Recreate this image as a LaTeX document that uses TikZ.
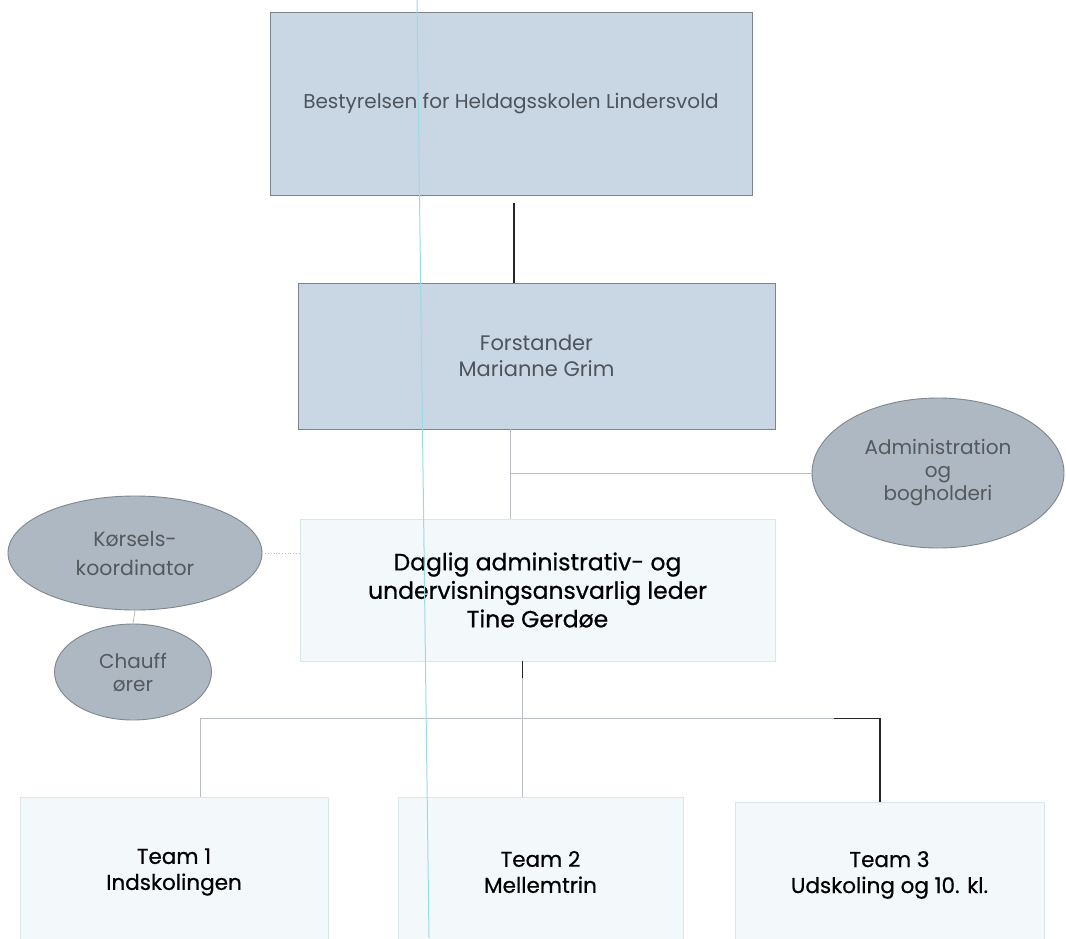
\documentclass[tikz,border=0pt]{standalone}
\usepackage{fontspec}
\setmainfont{Poppins}
\newfontfamily\heavyfont{Poppins}[FakeBold=0.6]
\usetikzlibrary{shapes.geometric,calc}
\definecolor{boxblue}{HTML}{C9D6E3}
\definecolor{boxedge}{HTML}{7C838A}
\definecolor{ellfill}{HTML}{AEB8C3}
\definecolor{elledge}{HTML}{7E868E}
\definecolor{palefill}{HTML}{F3F9FB}
\definecolor{paleedge}{HTML}{D9E6EA}
\definecolor{greytext}{HTML}{4E545B}
\definecolor{ellitext}{HTML}{53595F}
\definecolor{faintline}{HTML}{B9BEC2}
\definecolor{scanline}{HTML}{9ADCE4}
\tikzset{
  topbox/.style={draw=boxedge, line width=0.8, fill=boxblue, text=greytext, align=center, inner sep=0},
  palebox/.style={draw=paleedge, line width=0.8, fill=palefill, text=black, align=center, inner sep=0},
  oval/.style={ellipse, draw=elledge, line width=0.9, fill=ellfill, text=ellitext, align=center, inner sep=0},
  darkline/.style={draw=black!85, line width=1.2},
  faint/.style={draw=faintline, line width=0.8},
}
\begin{document}
\begin{tikzpicture}[x=1pt,y=-1pt]
\useasboundingbox (0,0) rectangle (1066,938);
\clip (0,0) rectangle (1066,938);
\fill[white] (0,0) rectangle (1066,938);

% nodes
\node[topbox, minimum width=482, minimum height=183, font=\fontsize{20}{26}\selectfont] (top) at (511,103.5) {Bestyrelsen for Heldagsskolen Lindersvold};
\node[topbox, minimum width=477, minimum height=146, font=\fontsize{21}{26}\selectfont] (forst) at (536.5,356) {Forstander\\Marianne Grim};
\node[palebox, minimum width=475, minimum height=142, font=\heavyfont\fontsize{23.5}{28.5}\selectfont] (dag) at (537.5,590) {Daglig administrativ- og\\undervisningsansvarlig leder\\Tine Gerdøe};
\node[oval, minimum width=252, minimum height=150, font=\fontsize{20}{23}\selectfont] (admin) at (938,473) {Administration\\og\\bogholderi};
\node[oval, minimum width=254, minimum height=114, font=\fontsize{20.5}{29}\selectfont] (kors) at (135,553) {Kørsels-\\koordinator};
\node[oval, minimum width=157, minimum height=96, font=\fontsize{20}{23}\selectfont] (chauf) at (133,672) {Chauff\\ører};
\node[palebox, minimum width=308, minimum height=150, font=\heavyfont\fontsize{21.5}{26}\selectfont] (t1) at (174,872) {Team 1\\Indskolingen};
\node[palebox, minimum width=285, minimum height=150, font=\heavyfont\fontsize{21.5}{26}\selectfont] (t2) at (540.5,872) {Team 2\\Mellemtrin};
\node[palebox, minimum width=309, minimum height=146, font=\heavyfont\fontsize{21.5}{26}\selectfont] (t3) at (889.5,875) {Team 3\\Udskoling og 10. kl.};

% connectors
\coordinate (a1) at ([xshift=3]top.south);
\draw[darkline] ([yshift=-8]a1) -- (a1 |- forst.north);
\coordinate (f1) at ([xshift=-26]forst.south);
\coordinate (j1) at (f1 |- admin.west);
\draw[faint] (f1) -- (f1 |- dag.north);
\draw[faint] (j1) -- (admin.west);
\draw[faint, dotted] (kors.east) -- (kors.east -| dag.west);
\draw[faint] (kors.south) -- (chauf.north);
\coordinate (d1) at ([xshift=-15]dag.south);
\coordinate (bus) at ([yshift=-57]d1);
\draw[darkline, line width=1] (d1) -- ([yshift=-17]d1);
\draw[faint] ([yshift=-17]d1) -- (bus);
\coordinate (b1) at (200,0 |- bus);
\coordinate (b3) at (880,0 |- bus);
\draw[faint] (b1) -- (b3);
\draw[faint] (b1) -- (b1 |- t1.north);
\draw[faint] (bus) -- (bus |- t2.north);
\draw[darkline] ([xshift=-46]b3) -- (b3) -- (b3 |- t3.north);

% scan guide line
\draw[scanline, line width=1] (417,0) -- (429,938);
\end{tikzpicture}
\end{document}
